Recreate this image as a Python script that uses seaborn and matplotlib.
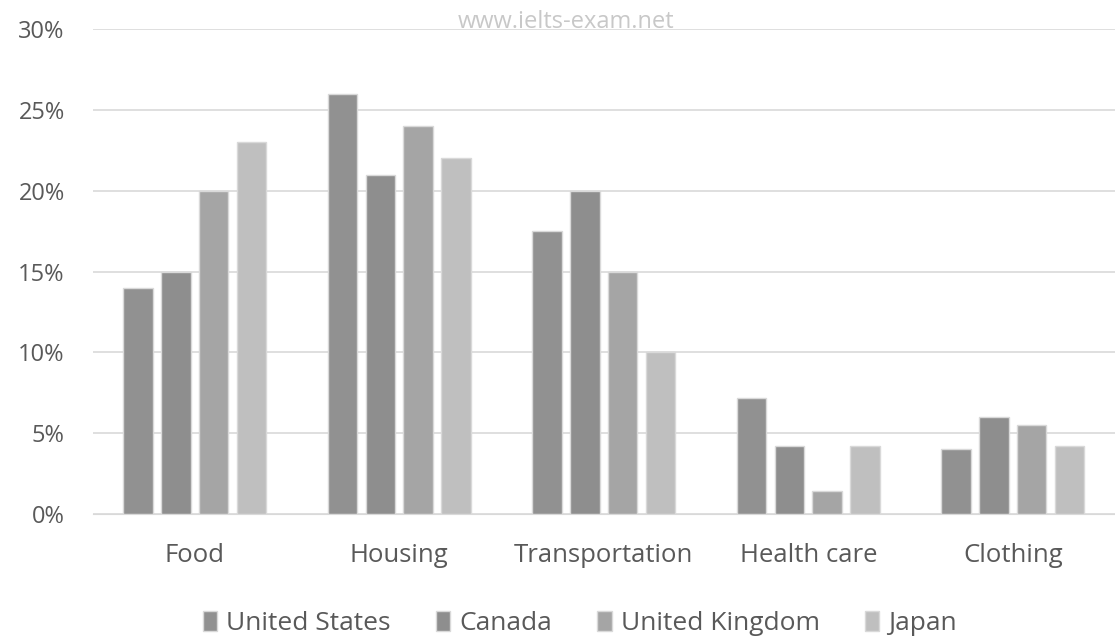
import pandas as pd
import seaborn as sns
import matplotlib.pyplot as plt
from matplotlib.ticker import FuncFormatter

# Datos (porcentaje del gasto)
categorias = ["Food", "Housing", "Transportation", "Health care", "Clothing"]
paises = ["United States", "Canada", "United Kingdom", "Japan"]
united_states = [14, 26, 17.5, 7.2, 4]
canada = [15, 21, 20, 4.2, 6]
united_kingdom = [20, 24, 15, 1.4, 5.5]
japan = [23, 22, 10, 4.2, 4.2]
colores = ["#919191", "#8e8e8e", "#a5a5a5", "#bfbfbf"]

valores = [united_states, canada, united_kingdom, japan]
filas = []
for pais, serie in zip(paises, valores):
    for cat, v in zip(categorias, serie):
        filas.append({"categoria": cat, "pais": pais, "valor": v / 100})
df = pd.DataFrame(filas)

sns.set_style("white")
plt.rcParams['font.family'] = ['Open Sans', 'DejaVu Sans']

fig = plt.figure(figsize=(11.15, 6.36), dpi=100)
ax = fig.add_axes([0.083, 0.192, 0.917, 0.762])

sns.barplot(data=df, x="categoria", y="valor", hue="pais", order=categorias,
            hue_order=paises, palette=colores, width=0.74, gap=0.22,
            edgecolor="#d9d9d9", linewidth=1, ax=ax, legend=True)

ax.set_ylim(0, 0.30)
ax.set_yticks([0, 0.05, 0.10, 0.15, 0.20, 0.25, 0.30])
ax.yaxis.set_major_formatter(FuncFormatter(lambda y, _: f"{y*100:.0f}%"))
ax.grid(axis="y", color="#d9d9d9", linewidth=1.2)
ax.set_axisbelow(True)
for s in ["top", "right", "left"]:
    ax.spines[s].set_visible(False)
ax.spines["bottom"].set_color("#d9d9d9")
ax.set_xlabel("")
ax.set_ylabel("")
ax.tick_params(axis="y", length=0, labelsize=17, colors="#595959", pad=20)
ax.tick_params(axis="x", length=0, labelsize=18.5, colors="#595959", pad=21)

handles, labels = ax.get_legend_handles_labels()
ax.get_legend().remove()
fig.legend(handles, labels, loc="lower center", bbox_to_anchor=(0.52, -0.038),
           ncol=4, frameon=False, fontsize=19, labelcolor="#595959",
           handlelength=0.55, handleheight=0.8, handletextpad=0.35, columnspacing=1.7)

fig.text(0.508, 0.966, "www.ielts-exam.net", color="#c8c8c8", fontsize=17,
         ha="center", va="center")

fig.savefig("out.png", dpi=100)
